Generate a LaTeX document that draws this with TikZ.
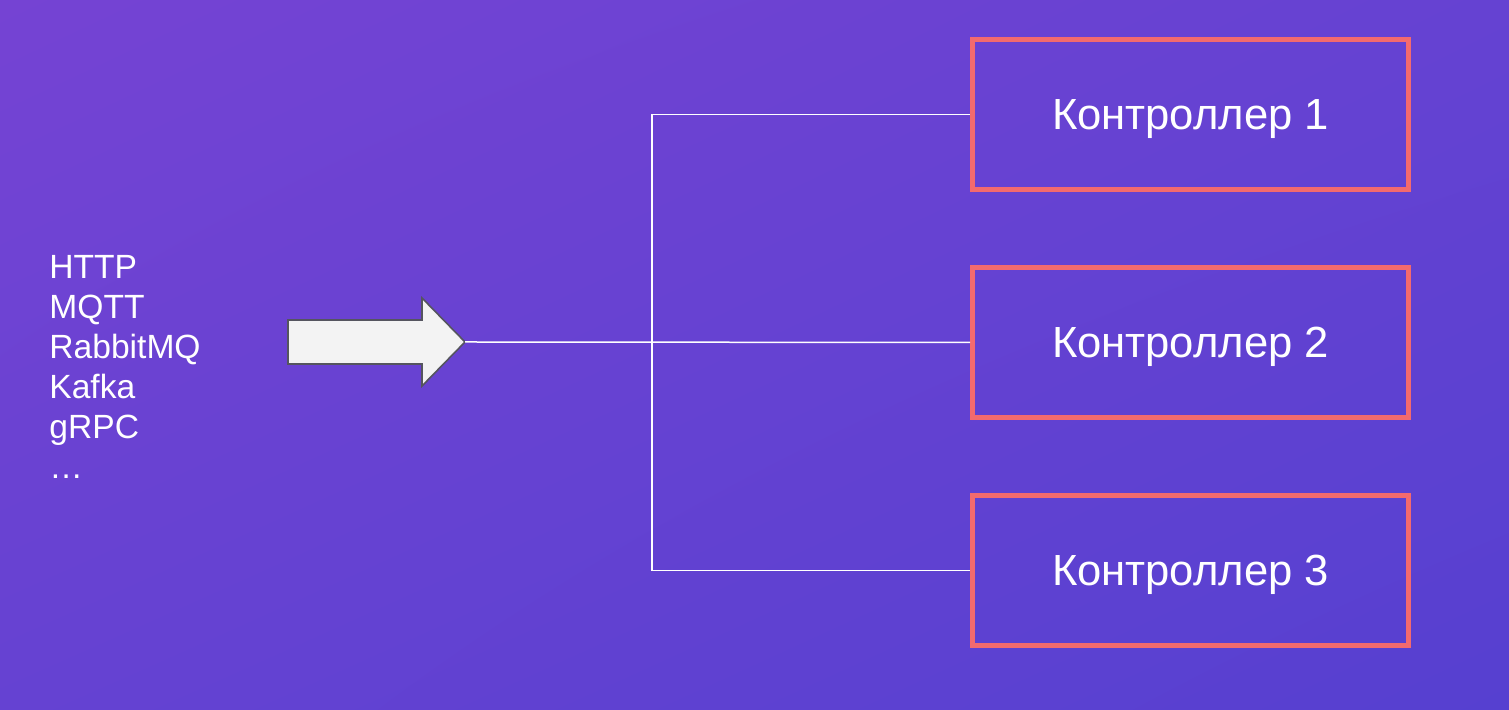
\documentclass[tikz,border=0pt]{standalone}
\usepackage{fontspec}
\setmainfont{Liberation Sans}
\usetikzlibrary{calc}
\usetikzlibrary{shadings}

\definecolor{bgtl}{RGB}{117,67,211}
\definecolor{bgmid}{RGB}{101,66,210}
\definecolor{bgbr}{RGB}{86,64,208}
\definecolor{coral}{RGB}{243,106,110}
\definecolor{arrowfill}{RGB}{243,243,243}
\definecolor{arrowedge}{RGB}{85,85,95}

\begin{document}
\begin{tikzpicture}[x=0.5pt, y=0.5pt,
    ctrlbox/.style={draw=coral, line width=2.5pt, minimum width=218pt, minimum height=75pt,
      text=white, text depth=0pt, font=\fontsize{21.8}{26}\selectfont},
    wire/.style={draw=white, line width=0.75pt},
    protolist/.style={text=white, align=left, inner sep=0pt, anchor=north west,
      font=\fontsize{16.8}{20}\selectfont}]
      % background
      \useasboundingbox (0,0) rectangle (1509,710);
      \shade[upper left=bgtl, upper right=bgmid, lower left=bgmid, lower right=bgbr]
        (0,0) rectangle (1509,710);

      % protocols
      \node[protolist] (protos) at (49,455) {HTTP\\MQTT\\RabbitMQ\\Kafka\\gRPC\\\dots};

      % block arrow
      \draw[fill=arrowfill, draw=arrowedge, line width=0.8pt, line join=miter]
        (288,390) -- (422,390) -- (422,412) -- (465,368) -- (422,324) -- (422,346) -- (288,346) -- cycle;
      \coordinate (tip) at (465,368);

      % controllers
      \node[ctrlbox] (ctrl1) at (1190.5,595.5) {Контроллер 1};
      \node[ctrlbox] (ctrl2) at (1190.5,367.5) {Контроллер 2};
      \node[ctrlbox] (ctrl3) at (1190.5,139.5) {Контроллер 3};

      % wiring
      \coordinate (fork) at (652,368);
      \draw[wire] (tip) -- (ctrl2.west);
      \draw[wire] (ctrl1.west) -| (fork) |- (ctrl3.west);
\end{tikzpicture}
\end{document}
